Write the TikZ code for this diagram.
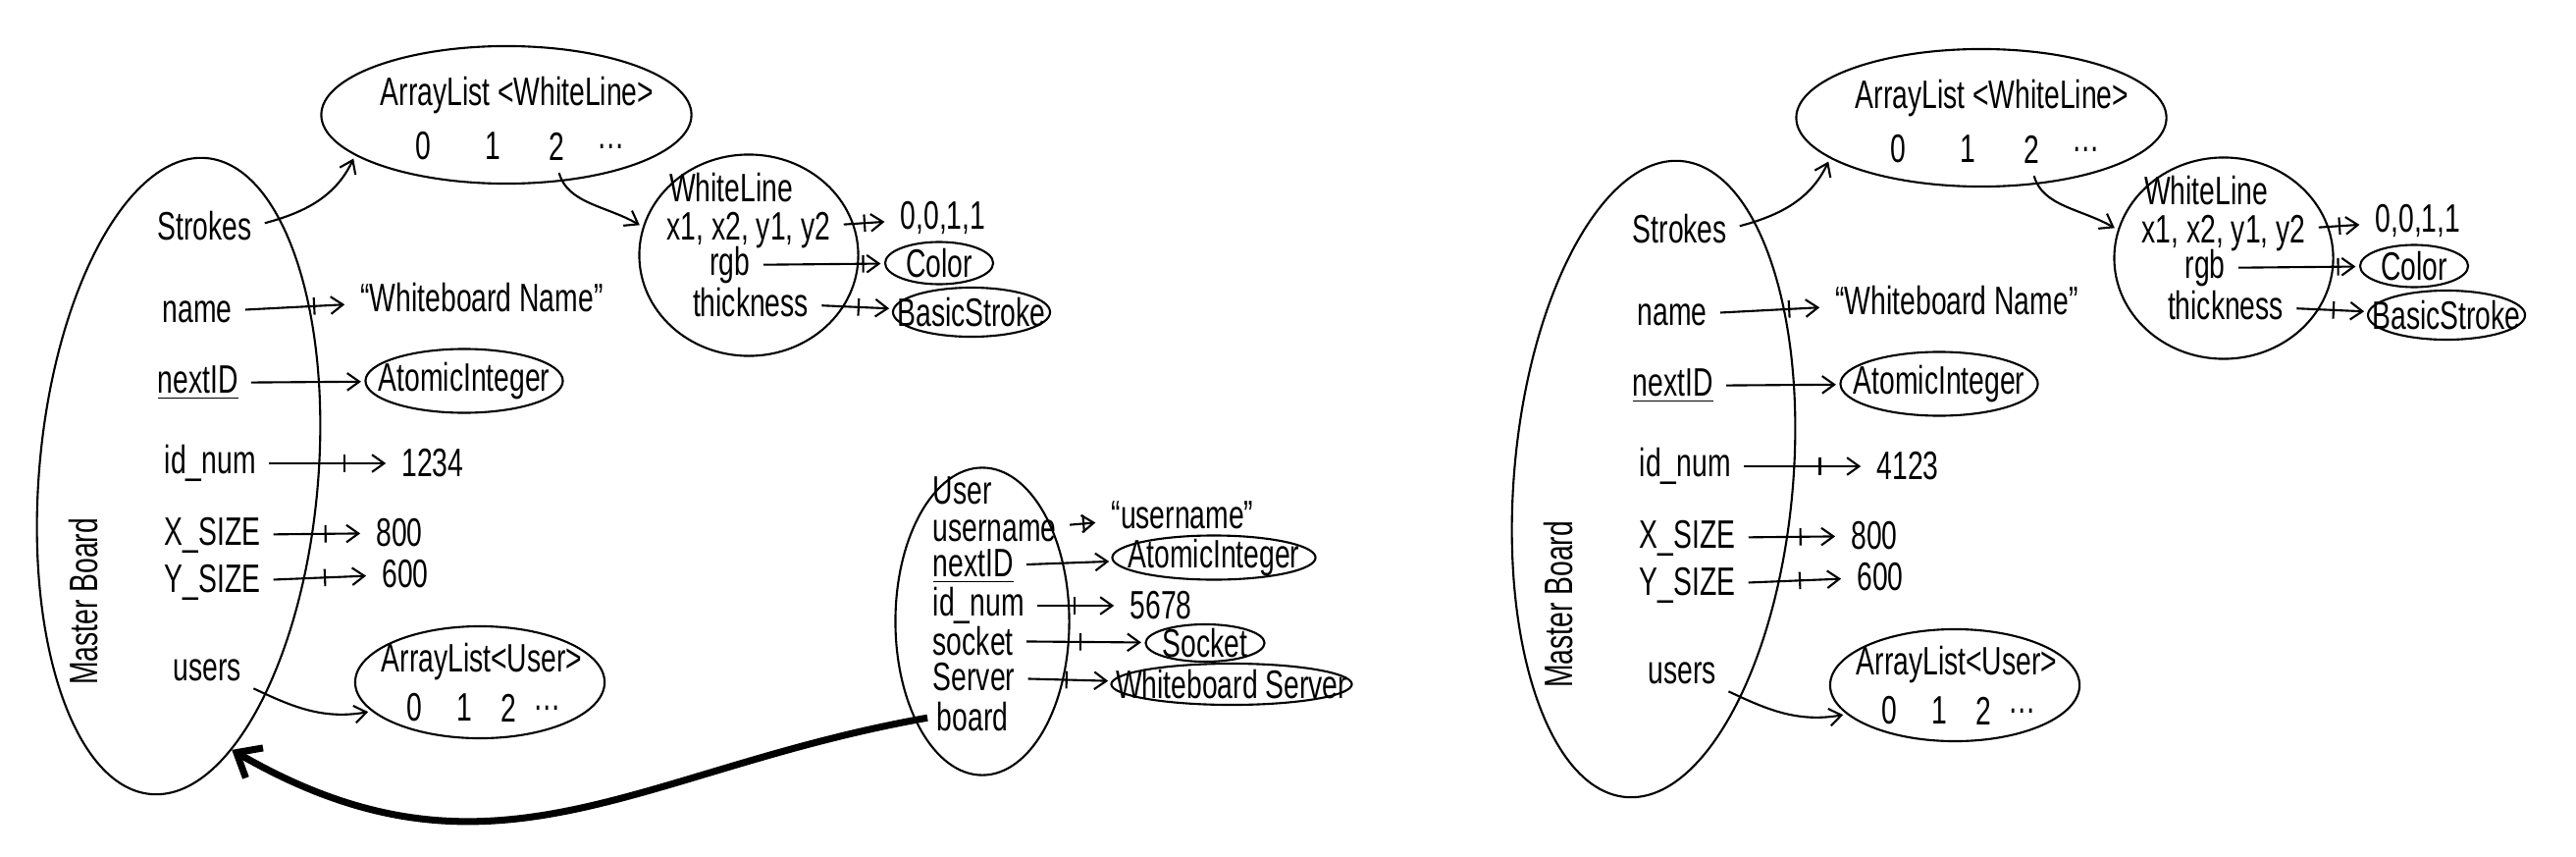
\documentclass[tikz,border=0pt]{standalone}
\usepackage{fontspec}
\setmainfont{Liberation Sans}[FakeStretch=0.7]
\usetikzlibrary{shapes.geometric,arrows.meta,decorations.markings}

\tikzset{
  oval/.style={draw, ellipse, inner sep=0pt},
  field/.style={inner sep=0.5pt},
  ref/.style={-{Straight Barb[length=3.5pt,width=5pt]}, shorten <=3pt, shorten >=1pt},
  fixed/.style={ref, postaction={decorate, decoration={markings,
      mark=at position #1 with {\draw[-, shorten <=0pt, shorten >=0pt] (0,-2.5pt) -- (0,2.5pt);}}}},
  fixed/.default=0.7,
  backref/.style={line width=2pt, -{Straight Barb[length=6pt,width=10pt]}, shorten <=2pt}
}

% one MasterBoard snapshot: #1 = name prefix, #2 = id_num value
\newcommand{\boardpanel}[2]{
  \node[oval, rotate=-5, minimum width=2.84cm, minimum height=6.5cm] (#1mb) at (182,485) {};
  \node[rotate=90] (#1mbtitle) at (85,613) {Master Board};
  \node[field, anchor=west] (#1strokes) at (158,230) {Strokes};
  \node[field, anchor=west] (#1name) at (163,318) {name};
  \node[field, anchor=west] (#1nextid) at (158,390) {\underline{nextID}};
  \node[field, anchor=west] (#1idnum) at (165,472) {id\_num};
  \node[field, anchor=west] (#1xsize) at (165,545) {X\_SIZE};
  \node[field, anchor=west] (#1ysize) at (165,593) {Y\_SIZE};
  \node[field, anchor=west] (#1users) at (174,683) {users};
  % strokes list
  \node[oval, minimum width=3.77cm, minimum height=1.4cm] (#1slist) at (516,117) {};
  \node[field] (#1sltitle) at (527,97) {ArrayList <WhiteLine>};
  \node[field] (#1sl0) at (431,149) {0};
  \node[field] (#1sl1) at (502,149) {1};
  \node[field] (#1sl2) at (567,149) {2};
  \node[field] (#1sldots) at (623,149) {\dots};
  % white line
  \node[oval, minimum width=2.23cm, minimum height=2.05cm] (#1wl) at (763,260) {};
  \node[field] (#1wltitle) at (745,191) {WhiteLine};
  \node[field] (#1wlcoords) at (763,235) {x1, x2, y1, y2};
  \node[field] (#1wlrgb) at (744,270) {rgb};
  \node[field] (#1wlthick) at (765,308) {thickness};
  \node (#1coordval) at (961,222) {0,0,1,1};
  \node[oval, minimum width=1.1cm, minimum height=0.43cm, label=center:Color] (#1color) at (957,268) {};
  \node[oval, minimum width=1.6cm, minimum height=0.5cm, label=center:BasicStroke] (#1stroke) at (990,318) {};
  % values
  \node (#1wbname) at (491,303) {``Whiteboard Name''};
  \node[oval, minimum width=2.01cm, minimum height=0.65cm, label=center:AtomicInteger] (#1atomic) at (473,388) {};
  \node (#1idval) at (441,472) {#2};
  \node (#1xval) at (407,543) {800};
  \node (#1yval) at (413,585) {600};
  % users list
  \node[oval, minimum width=2.54cm, minimum height=1.14cm] (#1ulist) at (489,695) {};
  \node[field] (#1ultitle) at (491,674) {ArrayList<User>};
  \node[field] (#1ul0) at (422,721) {0};
  \node[field] (#1ul1) at (473,721) {1};
  \node[field] (#1ul2) at (518,721) {2};
  \node[field] (#1uldots) at (558,721) {\dots};
  % references
  \draw[ref] (#1strokes.east) to[out=15,in=-115] (#1slist.-165);
  \draw[ref] (#1sl2.south) to[out=-75,in=150] (#1wl.165);
  \draw[fixed=0.7] (#1name) -- (#1wbname);
  \draw[ref] (#1nextid) -- (#1atomic);
  \draw[fixed=0.66] (#1idnum) -- (#1idval);
  \draw[fixed=0.62] (#1xsize) -- (#1xval);
  \draw[fixed=0.58] (#1ysize) -- (#1yval);
  \draw[ref] (#1users.south east) to[out=-25,in=-170] (#1ulist.-165);
  \draw[fixed=0.57] (#1wlcoords) -- (#1coordval);
  \draw[fixed=0.84] (#1wlrgb) -- (#1color);
  \draw[fixed=0.58] (#1wlthick) -- (#1stroke);
}

\begin{document}
\begin{tikzpicture}[x=0.01cm, y=-0.01cm, line width=0.6pt, font=\fontsize{11.5}{13}\selectfont]
  \useasboundingbox (0,0) rectangle (2625,873);

  \boardpanel{a}{1234}
  \begin{scope}[shift={(1503,3)}]
    \boardpanel{b}{4123}
  \end{scope}

  % user object
  \node[oval, minimum width=1.77cm, minimum height=3.13cm] (user) at (1001,633) {};
  \node[field, anchor=west] (utitle) at (948,500) {User};
  \node[field, anchor=west] (uname) at (948,541) {username};
  \node[field, anchor=west] (unext) at (948,577) {\underline{nextID}};
  \node[field, anchor=west] (uid) at (948,617) {id\_num};
  \node[field, anchor=west] (usock) at (948,653) {socket};
  \node[field, anchor=west] (userv) at (948,690) {Server};
  \node[field, anchor=west] (uboard) at (952,730) {board};
  \node (unameval) at (1205,525) {``username''};
  \node[oval, minimum width=2.07cm, minimum height=0.45cm, label=center:AtomicInteger] (uatomic) at (1237,568) {};
  \node (uidval) at (1183,617) {5678};
  \node[oval, minimum width=1.21cm, minimum height=0.38cm, label=center:Socket] (socket) at (1228,655) {};
  \node[oval, minimum width=2.45cm, minimum height=0.42cm, label=center:Whiteboard Server] (server) at (1255,697) {};

  \draw[fixed=0.61] (uname) -- (unameval);
  \draw[ref] (unext) -- (uatomic);
  \draw[fixed=0.53] (uid) -- (uidval);
  \draw[fixed=0.5] (usock) -- (socket);
  \draw[fixed=0.52] (userv) -- (server);
  \draw[backref] (uboard.west) to[out=190,in=-30,looseness=1.1] (amb.-74);
\end{tikzpicture}
\end{document}
